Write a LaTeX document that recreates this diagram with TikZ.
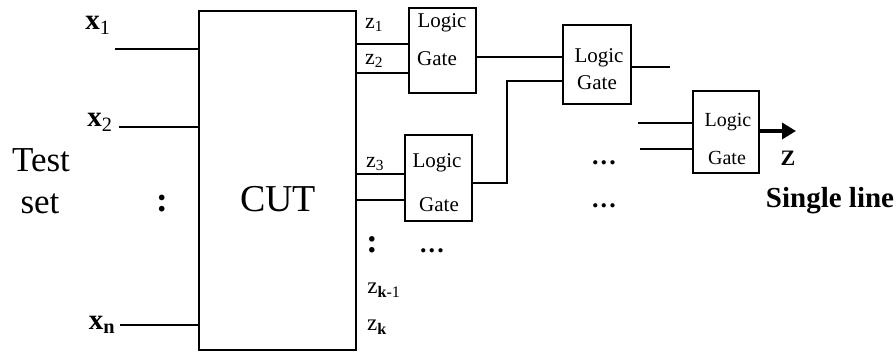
\documentclass[tikz,border=0pt]{standalone}
\usepackage{fontspec}
\setmainfont{Liberation Serif}
\usetikzlibrary{arrows.meta}
\tikzset{
  boxnode/.style={draw=black,line width=1.8pt,inner sep=0pt,anchor=north west},
  wire/.style={draw=black,line width=1.7pt},
  txt/.style={inner sep=0pt,text=black},
  gatetxt/.style={txt,font=\fontsize{21}{21}\selectfont},
  lab/.style={txt,font=\fontsize{29}{29}\selectfont\bfseries},
  zlab/.style={txt,font=\fontsize{22}{22}\selectfont},
  big/.style={txt,font=\fontsize{35}{35}\selectfont},
  dotstxt/.style={txt,font=\fontsize{26}{26}\selectfont\bfseries},
}
\newcommand{\boxat}[5]{\node[boxnode,minimum width=#4pt,minimum height=#5pt] (#1) at (#2,#3) {};}
\newcommand{\spdots}{.\kern2.2pt.\kern2.2pt.}
\begin{document}
\begin{tikzpicture}[x=1pt,y=-1pt]
\useasboundingbox (0,0) rectangle (896,352);
\boxat{cut}{198}{10}{157}{339}
\boxat{ga}{408}{7}{67}{85}
\boxat{gb}{404}{134}{67}{86}
\boxat{gc}{562}{24}{68}{79}
\boxat{gd}{692}{90}{66}{82}
% free ends and levels
\coordinate (xa) at (115,49);
\coordinate (xb) at (119,127);
\coordinate (xn) at (120,325);
\coordinate (za) at (380,44);
\coordinate (zb) at (380,73);
\coordinate (zc) at (380,174);
\coordinate (zd) at (380,200);
\coordinate (oa) at (500,57);
\coordinate (ib) at (507,81);
\coordinate (ob) at (507,183);
\coordinate (oc) at (670,67);
\coordinate (ia) at (638,123);
\coordinate (ic) at (640,149);
\coordinate (oz) at (796,131);
% wires
\draw[wire] (xa) -- (xa -| cut.west);
\draw[wire] (xb) -- (xb -| cut.west);
\draw[wire] (xn) -- (xn -| cut.west);
\draw[wire] (za -| cut.east) -- (za -| ga.west);
\draw[wire] (zb -| cut.east) -- (zb -| ga.west);
\draw[wire] (zc -| cut.east) -- (zc -| gb.west);
\draw[wire] (zd -| cut.east) -- (zd -| gb.west);
\draw[wire] (oa -| ga.east) -- (oa -| gc.west);
\draw[wire] (ib -| gc.west) -- (ib) -- (ob) -- (ob -| gb.east);
\draw[wire] (oc -| gc.east) -- (oc);
\draw[wire] (ia) -- (ia -| gd.west);
\draw[wire] (ic) -- (ic -| gd.west);
\draw[draw=black,line width=3.4pt,-{Triangle[length=14pt,width=16pt]}] (oz -| gd.east) -- (oz);
% labels
\node[lab] (lx1) at (98,25) {x\textsubscript{\normalfont 1}};
\node[lab] (lx2) at (100,122) {x\textsubscript{\normalfont 2}};
\node[lab] (lxn) at (102,325) {x\textsubscript{n}};
\node[big] (ltest) at (41,160) {Test};
\node[big] (lset) at (40,204) {set};
\node[txt,font=\fontsize{35}{35}\selectfont\bfseries] (ldots) at (162,204) {:};
\node[txt,font=\fontsize{38}{38}\selectfont] (lcut) at (278,199) {CUT};
\node[zlab] (lz1) at (374,25) {z\textsubscript{1}};
\node[zlab] (lz2) at (374,61) {z\textsubscript{2}};
\node[zlab] (lz3) at (375,164) {z\textsubscript{3}};
\node[txt,font=\fontsize{34}{34}\selectfont\bfseries] (lvd) at (372,245) {:};
\node[txt,font=\fontsize{23}{23}\selectfont] (lzk1) at (384,290) {z\textsubscript{\textbf{k}-1}};
\node[txt,font=\fontsize{23}{23}\selectfont] (lzk) at (377,327) {z\textsubscript{\textbf{k}}};
\node[gatetxt] at (442,23) (g1a) {Logic};
\node[gatetxt] at (437,59) (g1b) {Gate};
\node[gatetxt] at (437,163) (g2a) {Logic};
\node[gatetxt] at (439,205) (g2b) {Gate};
\node[gatetxt] at (599,58) (g3a) {Logic};
\node[gatetxt] at (597,83) (g3b) {Gate};
\node[gatetxt,font=\fontsize{20}{20}\selectfont] at (728,122) (g4a) {Logic};
\node[gatetxt,font=\fontsize{20}{20}\selectfont] at (727,158) (g4b) {Gate};
\node[txt,font=\fontsize{22}{22}\selectfont\bfseries] (lz) at (788,158) {Z};
\node[txt,font=\fontsize{29}{29}\selectfont\bfseries] (lsingle) at (830,201) {Single line};
\node[dotstxt] (dd1) at (432,251) {\spdots};
\node[dotstxt] (dd2) at (604,163) {\spdots};
\node[dotstxt] (dd3) at (604,206) {\spdots};
\end{tikzpicture}
\end{document}
